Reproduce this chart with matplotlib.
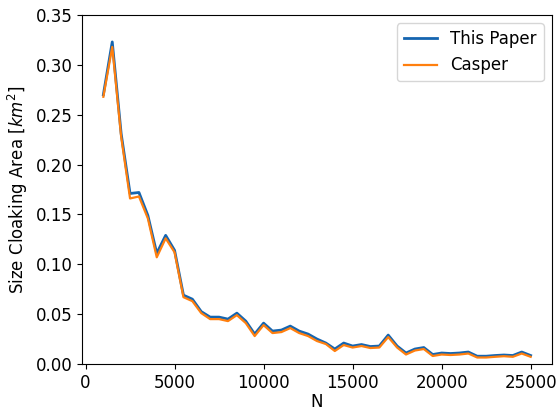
import matplotlib
matplotlib.use("Agg")
import numpy as np
import matplotlib.pyplot as plt

# N values (users)
n_users = list(range(1000, 25001, 500))

this_paper = [0.270, 0.323, 0.231, 0.171, 0.172, 0.149, 0.111, 0.129, 0.114, 0.069,
              0.065, 0.0525, 0.047, 0.047, 0.045, 0.051, 0.043, 0.030, 0.041, 0.033,
              0.034, 0.038, 0.033, 0.030, 0.025, 0.021, 0.015, 0.021, 0.0180, 0.0195,
              0.0175, 0.018, 0.029, 0.018, 0.011, 0.015, 0.0165, 0.0095, 0.011, 0.0105,
              0.011, 0.012, 0.0078, 0.0078, 0.0085, 0.009, 0.0085, 0.012, 0.0085]

casper = [0.268, 0.318, 0.228, 0.166, 0.168, 0.146, 0.107, 0.126, 0.112, 0.067,
          0.063, 0.051, 0.045, 0.045, 0.043, 0.049, 0.041, 0.028, 0.039, 0.031,
          0.032, 0.036, 0.031, 0.028, 0.023, 0.020, 0.013, 0.019, 0.0165, 0.018,
          0.016, 0.0165, 0.027, 0.0165, 0.0095, 0.0135, 0.015, 0.008, 0.0095, 0.009,
          0.0095, 0.0105, 0.0065, 0.0065, 0.0072, 0.0078, 0.0072, 0.0105, 0.0072]

fig = plt.figure(figsize=(5.6, 4.11), dpi=100)
ax = fig.add_axes([0.1464, 0.1144, 0.8393, 0.8491])

ax.plot(n_users, this_paper, color="#1565b0", lw=2, label="This Paper")
ax.plot(n_users, casper, color="#ff7f0e", lw=1.6, label="Casper")

ax.set_ylim(0, 0.35)
ax.set_yticks(np.arange(0, 0.351, 0.05))
ax.set_xticks([0, 5000, 10000, 15000, 20000, 25000])
ax.tick_params(labelsize=12)
ax.set_xlabel("N", fontsize=12, labelpad=1)
ax.set_ylabel("Size Cloaking Area [$km^2$]", fontsize=12)
ax.legend(loc="upper right", fontsize=12)

fig.savefig("out.png", dpi=100)
